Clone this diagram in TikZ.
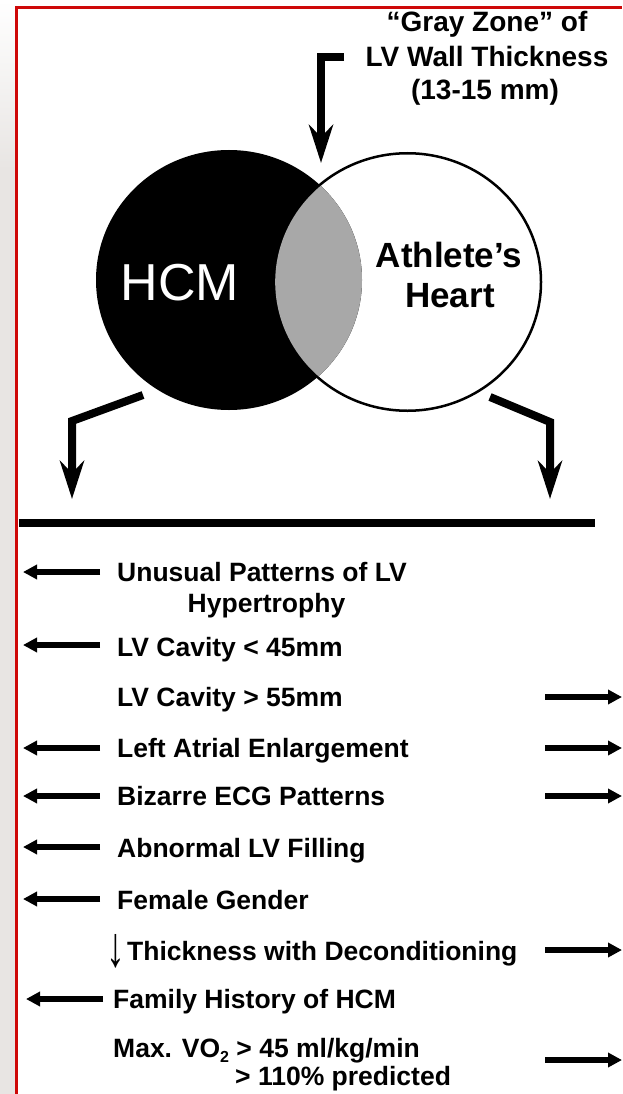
\documentclass[tikz,border=0pt]{standalone}
\usepackage{fontspec}
\setmainfont{Liberation Sans}
\usetikzlibrary{arrows.meta,shapes.geometric}
\definecolor{framered}{RGB}{206,8,8}
\definecolor{stripgray}{RGB}{232,229,227}
\definecolor{lensgray}{RGB}{168,168,168}
\begin{document}
\begin{tikzpicture}[x=1pt,y=-1pt,
  bigarr/.style={line width=7.5pt, line join=miter, -{Stealth[length=38pt,width=24pt,inset=12pt]}},
  smarr/.style={line width=6pt, -{Triangle[length=14pt,width=14pt]}},
  itemtxt/.style={inner sep=0pt, anchor=base west, font=\fontsize{26.5}{30}\selectfont\bfseries},
  headtxt/.style={inner sep=0pt, anchor=base, font=\fontsize{28}{32}\selectfont\bfseries},
  athtxt/.style={inner sep=0pt, anchor=base, font=\fontsize{35}{40}\selectfont\bfseries}]
\useasboundingbox (0,0) rectangle (622,1094);
% background and frame
\fill[white] (0,0) rectangle (622,1094);
\shade[top color=white, bottom color=stripgray] (0,0) rectangle (16,170);
\fill[stripgray] (0,170) rectangle (16,1094);
\draw[framered, line width=2.5pt] (16.5,1094) -- (16.5,7.5) -- (622,7.5);

% header
\node[headtxt] (gz1) at (487,32) {“Gray Zone” of};
\node[headtxt] (gz2) at (487,67) {LV Wall Thickness};
\node[headtxt] (gz3) at (485,100) {(13-15 mm)};

% circles
\node[ellipse, draw=black, line width=2.5pt, fill=white, inner sep=0pt,
      minimum width=267pt, minimum height=257.5pt] (ath) at (407.5,282) {};
\node[ellipse, fill=black, inner sep=0pt,
      minimum width=266pt, minimum height=260pt] (hcm) at (229,280) {};
\begin{scope}
  \clip (229,280) ellipse [x radius=133pt, y radius=130pt];
  \fill[lensgray] (407.5,282) ellipse [x radius=132.3pt, y radius=127.5pt];
\end{scope}
\node[inner sep=0pt, anchor=base, text=white, font=\fontsize{52}{56}\selectfont] (hcmlabel) at (180,300) {HCM};
\node[athtxt] (athl1) at (449,267) {Athlete’s};
\node[athtxt] (athl2) at (450,307) {Heart};

% top arrow
\coordinate (gzs) at (344,57);
\coordinate (gzc) at (321,57);
\coordinate (gzt) at (321,163);
\draw[bigarr] (gzs) -- (gzc) -- (gzt);

% bent arrows
\coordinate (las) at (143,395);
\coordinate (lac) at (72,421);
\coordinate (lat) at (72,499);
\draw[bigarr, line width=8pt] (las) -- (lac) -- (lat);
\coordinate (ras) at (490,397);
\coordinate (rac) at (550,422);
\coordinate (rat) at (550,499);
\draw[bigarr, line width=8pt] (ras) -- (rac) -- (rat);

% rule
\coordinate (rl) at (19,523);
\coordinate (rr) at (595,523);
\draw[line width=8pt] (rl) -- (rr);

% list items
\node[itemtxt] (t1) at (117,581) {Unusual Patterns of LV};
\node[inner sep=0pt, anchor=base, font=\fontsize{26.5}{30}\selectfont\bfseries] (t1b) at (266.5,612) {Hypertrophy};
\node[itemtxt] (t2) at (117,656) {LV Cavity < 45mm};
\node[itemtxt] (t3) at (117,706) {LV Cavity > 55mm};
\node[itemtxt] (t4) at (117,757) {Left Atrial Enlargement};
\node[itemtxt] (t5) at (117,805) {Bizarre ECG Patterns};
\node[itemtxt] (t6) at (117,857) {Abnormal LV Filling};
\node[itemtxt] (t7) at (117,909) {Female Gender};
\node[inner sep=0pt, anchor=base, font=\fontsize{30}{30}\selectfont] (t8a) at (115.5,966) {\scalebox{1.25}[1.9]{↓}};
\node[itemtxt] (t8) at (127,960) {Thickness with Deconditioning};
\node[itemtxt] (t9) at (113,1008) {Family History of HCM};
\node[itemtxt] (t10) at (113,1057) {Max. VO\raisebox{-5pt}{\fontsize{16}{16}\selectfont 2} > 45 ml/kg/min};
\node[itemtxt] (t10b) at (235,1085) {> 110\% predicted};

% left arrows (HCM)
\foreach \n/\y in {a1/572, a2/645, a4/748, a5/796, a6/847, a7/899}{
  \coordinate (L\n s) at (100,\y);
  \coordinate (L\n e) at (23,\y);
  \draw[smarr] (L\n s) -- (L\n e);
}
\coordinate (La9s) at (103,999);
\coordinate (La9e) at (26,999);
\draw[smarr] (La9s) -- (La9e);

% right arrows (athlete)
\foreach \n/\y in {b3/697, b4/748, b5/796, b8/950, b10/1060}{
  \coordinate (R\n s) at (545,\y);
  \coordinate (R\n e) at (622,\y);
  \draw[smarr] (R\n s) -- (R\n e);
}
\end{tikzpicture}
\end{document}
